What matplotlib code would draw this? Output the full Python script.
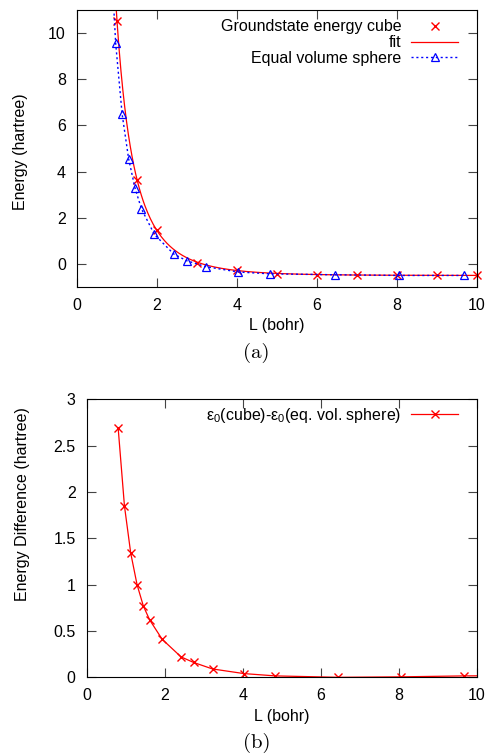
import numpy as np
import matplotlib
matplotlib.use("Agg")
import matplotlib.pyplot as plt

plt.rcParams['font.family'] = ['Liberation Sans', 'DejaVu Sans']
plt.rcParams['mathtext.fontset'] = 'custom'
plt.rcParams['mathtext.rm'] = 'Liberation Sans'
plt.rcParams['mathtext.default'] = 'rm'

# --- data ---
# (a) ground state energy of the cube
cube_L = [1.0, 1.5, 2.0, 3.0, 4.0, 5.0, 6.0, 7.0, 8.0, 9.0, 10.0]
cube_E = [10.53, 3.64, 1.47, 0.06, -0.28, -0.45, -0.48, -0.49, -0.50, -0.50, -0.50]

# equal volume sphere (cube side L of the same volume)
sphere_L = [0.806, 0.967, 1.128, 1.290, 1.451, 1.612, 1.934, 2.418, 2.740,
            3.224, 4.030, 4.836, 6.448, 8.060, 9.672]
sphere_E = [14.75, 9.55, 6.49, 4.56, 3.28, 2.38, 1.28, 0.43, 0.14,
            -0.12, -0.35, -0.43, -0.47, -0.50, -0.50]

# (b) energy difference cube - sphere
diff_L = [0.806, 0.967, 1.128, 1.290, 1.451, 1.612, 1.934, 2.418, 2.740,
          3.224, 4.030, 4.836, 6.448, 8.060, 9.672, 11.28]
diff_E = [2.69, 1.85, 1.34, 1.00, 0.77, 0.62, 0.41, 0.22, 0.16,
          0.09, 0.04, 0.015, 0.0, 0.005, 0.015, 0.02]

# fit to the cube data: E = E_inf + exp(A + p ln L - k L), weighted least squares
cL = np.array(cube_L)
cE = np.array(cube_E)
E_inf = cE.min()
f = cE - E_inf
m = f >= 0.02
w = f[m]
M = np.column_stack([np.ones(m.sum()), np.log(cL[m]), cL[m]])
coef = np.linalg.lstsq(M * w[:, None], np.log(f[m]) * w, rcond=None)[0]
fit_L = np.linspace(0.8, 10, 400)
fit_E = E_inf + np.exp(coef[0] + coef[1] * np.log(fit_L) + coef[2] * fit_L)

fig = plt.figure(figsize=(4.91, 7.55), dpi=100)
ax1 = fig.add_axes([77 / 491, 1 - 287 / 755, 400 / 491, 277 / 755])
ax2 = fig.add_axes([86.7 / 491, 1 - 677.3 / 755, 390.3 / 491, 278 / 755])

red = '#ff0000'
blue = '#0000ff'
fs = 11.5

ax1.plot(cube_L, cube_E, 'x', color=red, ms=5.5, mew=1, label='Groundstate energy cube', clip_on=False)
ax1.plot(fit_L, fit_E, '-', color=red, lw=0.9, label='fit')
ax1.plot(sphere_L, sphere_E, color=blue, ls=(0, (1.5, 2)), lw=1, marker='^', ms=6,
         mfc='none', mew=0.9, label='Equal volume sphere')
ax1.set_xlim(0, 10)
ax1.set_ylim(-1, 11)
ax1.set_xticks(range(0, 11, 2))
ax1.set_yticks(range(0, 11, 2))
ax1.set_xlabel('L (bohr)', fontsize=fs)
ax1.set_ylabel('Energy (hartree)', fontsize=fs)
ax1.xaxis.set_label_coords(0.5, -0.113)
ax1.yaxis.set_label_coords(-0.1225, 0.489)
ax1.legend(loc='upper right', bbox_to_anchor=(0.9518, 0.967), frameon=False, markerfirst=False,
           fontsize=fs, handlelength=2.9, handletextpad=0.62, labelspacing=0.06,
           borderpad=0, borderaxespad=0, numpoints=1)

ax2.plot(diff_L, diff_E, '-x', color=red, lw=0.9, ms=5.5, mew=1,
         label='ε$_0$(cube)-ε$_0$(eq. vol. sphere)')
ax2.set_xlim(0, 10)
ax2.set_ylim(0, 3)
ax2.set_xticks(range(0, 11, 2))
ax2.set_yticks(np.arange(0, 3.01, 0.5))
ax2.set_yticklabels(['0', '0.5', '1', '1.5', '2', '2.5', '3'])
ax2.set_xlabel('L (bohr)', fontsize=fs)
ax2.set_ylabel('Energy Difference (hartree)', fontsize=fs)
ax2.xaxis.set_label_coords(0.5, -0.114)
ax2.yaxis.set_label_coords(-0.146, 0.624)
ax2.legend(loc='upper right', bbox_to_anchor=(0.9505, 0.9766), frameon=False, markerfirst=False,
           fontsize=fs, handlelength=2.9, handletextpad=0.62,
           borderpad=0, borderaxespad=0, numpoints=1)

for ax in (ax1, ax2):
    ax.tick_params(direction='in', length=6.5, width=0.8, color='#444444',
                   top=True, right=True, labelsize=fs, pad=8)
    for s in ax.spines.values():
        s.set_linewidth(0.8)

fig.text(256.5 / 491, 1 - 353 / 755, '(a)', fontfamily='cmr10', fontsize=15, ha='center', va='center')
fig.text(256.7 / 491, 1 - 743 / 755, '(b)', fontfamily='cmr10', fontsize=15, ha='center', va='center')

fig.savefig('out.png', dpi=100)
